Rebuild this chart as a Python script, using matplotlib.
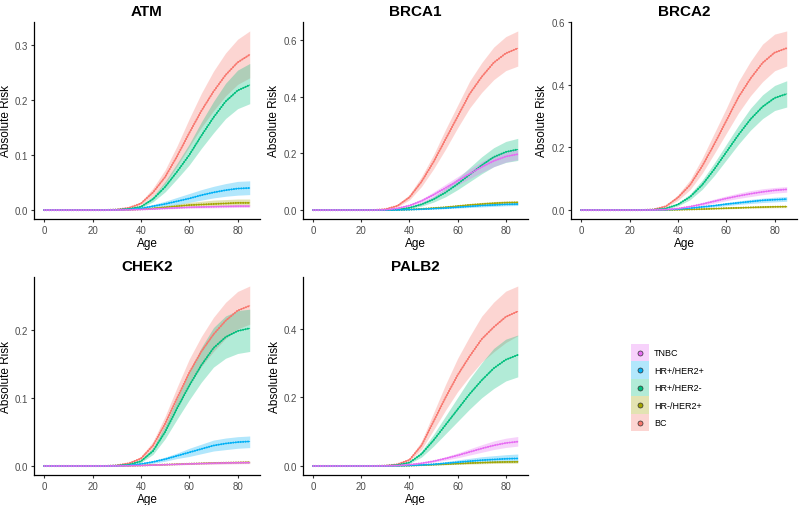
import matplotlib
matplotlib.use("Agg")
import matplotlib.pyplot as plt
from matplotlib.patches import Rectangle
from matplotlib.lines import Line2D

plt.rcParams['font.family'] = ['Liberation Sans', 'DejaVu Sans']

AGES = [0, 5, 10, 15, 20, 25, 30, 35, 40, 45, 50, 55, 60, 65, 70, 75, 80, 85]
GENES = ['ATM', 'BRCA1', 'BRCA2', 'CHEK2', 'PALB2']
SUBTYPES = ['BC', 'HR-/HER2+', 'HR+/HER2-', 'HR+/HER2+', 'TNBC']
LEGEND_ORDER = ['TNBC', 'HR+/HER2+', 'HR+/HER2-', 'HR-/HER2+', 'BC']
COLORS = {'TNBC': '#E76BF3', 'HR+/HER2+': '#00B0F6', 'HR+/HER2-': '#00BF7D',
          'HR-/HER2+': '#A3A500', 'BC': '#F8766D'}
Y_TICKS = {'ATM': [0.0, 0.1, 0.2, 0.3], 'BRCA1': [0.0, 0.2, 0.4, 0.6],
           'BRCA2': [0.0, 0.2, 0.4, 0.6], 'CHEK2': [0.0, 0.1, 0.2],
           'PALB2': [0.0, 0.2, 0.4]}
X_TICKS = [0, 20, 40, 60, 80]

# ---------------- ATM ----------------
ATM_BC = [0, 0, 0, 0, 0, 0, 0.001, 0.004, 0.012, 0.032, 0.06, 0.098, 0.14, 0.18, 0.215, 0.245, 0.268, 0.282]
ATM_BC_LO = [0, 0, 0, 0, 0, 0, 0.0008, 0.003, 0.009, 0.025, 0.048, 0.08, 0.115, 0.15, 0.18, 0.207, 0.228, 0.24]
ATM_BC_HI = [0, 0, 0, 0, 0, 0, 0.0013, 0.005, 0.015, 0.04, 0.073, 0.117, 0.166, 0.212, 0.252, 0.285, 0.31, 0.325]
ATM_HRNEG_HER2POS = [0, 0, 0, 0, 0, 0, 0.0001, 0.0005, 0.0015, 0.003, 0.005, 0.007, 0.009, 0.01, 0.011, 0.012, 0.013, 0.013]
ATM_HRNEG_HER2POS_LO = [0, 0, 0, 0, 0, 0, 0.0001, 0.0003, 0.001, 0.002, 0.003, 0.004, 0.005, 0.006, 0.007, 0.007, 0.008, 0.008]
ATM_HRNEG_HER2POS_HI = [0, 0, 0, 0, 0, 0, 0.0002, 0.0008, 0.0025, 0.005, 0.008, 0.011, 0.014, 0.016, 0.018, 0.019, 0.02, 0.02]
ATM_HRPOS_HER2NEG = [0, 0, 0, 0, 0, 0, 0.0005, 0.002, 0.006, 0.02, 0.042, 0.07, 0.1, 0.135, 0.168, 0.197, 0.217, 0.227]
ATM_HRPOS_HER2NEG_LO = [0, 0, 0, 0, 0, 0, 0.0003, 0.0015, 0.004, 0.015, 0.033, 0.057, 0.082, 0.112, 0.14, 0.166, 0.184, 0.193]
ATM_HRPOS_HER2NEG_HI = [0, 0, 0, 0, 0, 0, 0.0008, 0.003, 0.008, 0.025, 0.052, 0.085, 0.12, 0.16, 0.197, 0.23, 0.254, 0.266]
ATM_HRPOS_HER2POS = [0, 0, 0, 0, 0, 0, 0.0003, 0.001, 0.003, 0.007, 0.011, 0.016, 0.021, 0.027, 0.032, 0.036, 0.039, 0.04]
ATM_HRPOS_HER2POS_LO = [0, 0, 0, 0, 0, 0, 0.0002, 0.0006, 0.002, 0.004, 0.007, 0.01, 0.014, 0.018, 0.022, 0.025, 0.027, 0.028]
ATM_HRPOS_HER2POS_HI = [0, 0, 0, 0, 0, 0, 0.0005, 0.0015, 0.005, 0.01, 0.016, 0.023, 0.03, 0.037, 0.043, 0.048, 0.052, 0.053]
ATM_TNBC = [0, 0, 0, 0, 0, 0, 0.0001, 0.0003, 0.001, 0.002, 0.003, 0.004, 0.005, 0.0055, 0.006, 0.0065, 0.007, 0.007]
ATM_TNBC_LO = [0, 0, 0, 0, 0, 0, 0.00005, 0.0002, 0.0006, 0.0013, 0.002, 0.0027, 0.0033, 0.0037, 0.004, 0.0044, 0.0047, 0.005]
ATM_TNBC_HI = [0, 0, 0, 0, 0, 0, 0.00015, 0.0005, 0.0015, 0.003, 0.0045, 0.0058, 0.007, 0.0078, 0.0085, 0.009, 0.0095, 0.0098]

# ---------------- BRCA1 ----------------
BRCA1_BC = [0, 0, 0, 0, 0, 0, 0.003, 0.015, 0.045, 0.1, 0.17, 0.25, 0.33, 0.41, 0.47, 0.52, 0.553, 0.571]
BRCA1_BC_LO = [0, 0, 0, 0, 0, 0, 0.002, 0.011, 0.036, 0.083, 0.145, 0.215, 0.29, 0.36, 0.415, 0.46, 0.492, 0.508]
BRCA1_BC_HI = [0, 0, 0, 0, 0, 0, 0.004, 0.019, 0.055, 0.118, 0.195, 0.285, 0.37, 0.455, 0.52, 0.575, 0.612, 0.632]
BRCA1_HRNEG_HER2POS = [0, 0, 0, 0, 0, 0, 0.0001, 0.0006, 0.002, 0.004, 0.007, 0.01, 0.014, 0.018, 0.021, 0.024, 0.026, 0.027]
BRCA1_HRNEG_HER2POS_LO = [0, 0, 0, 0, 0, 0, 0.0001, 0.0004, 0.0014, 0.003, 0.005, 0.007, 0.01, 0.013, 0.016, 0.018, 0.02, 0.021]
BRCA1_HRNEG_HER2POS_HI = [0, 0, 0, 0, 0, 0, 0.0002, 0.0008, 0.0026, 0.005, 0.009, 0.013, 0.018, 0.023, 0.027, 0.03, 0.032, 0.033]
BRCA1_HRPOS_HER2NEG = [0, 0, 0, 0, 0, 0, 0.0003, 0.002, 0.008, 0.02, 0.038, 0.062, 0.092, 0.125, 0.158, 0.187, 0.205, 0.214]
BRCA1_HRPOS_HER2NEG_LO = [0, 0, 0, 0, 0, 0, 0.0002, 0.0013, 0.005, 0.014, 0.028, 0.047, 0.072, 0.1, 0.128, 0.153, 0.168, 0.175]
BRCA1_HRPOS_HER2NEG_HI = [0, 0, 0, 0, 0, 0, 0.0005, 0.003, 0.011, 0.026, 0.048, 0.077, 0.112, 0.15, 0.188, 0.22, 0.242, 0.253]
BRCA1_HRPOS_HER2POS = [0, 0, 0, 0, 0, 0, 0.0001, 0.0005, 0.0015, 0.003, 0.005, 0.007, 0.01, 0.013, 0.016, 0.018, 0.02, 0.021]
BRCA1_HRPOS_HER2POS_LO = [0, 0, 0, 0, 0, 0, 0.0001, 0.0003, 0.001, 0.002, 0.0035, 0.005, 0.007, 0.009, 0.011, 0.013, 0.015, 0.016]
BRCA1_HRPOS_HER2POS_HI = [0, 0, 0, 0, 0, 0, 0.0002, 0.0008, 0.002, 0.004, 0.0065, 0.009, 0.013, 0.017, 0.021, 0.023, 0.025, 0.026]
BRCA1_TNBC = [0, 0, 0, 0, 0, 0, 0.001, 0.006, 0.016, 0.032, 0.054, 0.078, 0.103, 0.128, 0.152, 0.173, 0.189, 0.197]
BRCA1_TNBC_LO = [0, 0, 0, 0, 0, 0, 0.0007, 0.004, 0.012, 0.025, 0.044, 0.065, 0.088, 0.111, 0.133, 0.153, 0.169, 0.178]
BRCA1_TNBC_HI = [0, 0, 0, 0, 0, 0, 0.0014, 0.008, 0.02, 0.039, 0.064, 0.091, 0.118, 0.145, 0.171, 0.193, 0.209, 0.216]

# ---------------- BRCA2 ----------------
BRCA2_BC = [0, 0, 0, 0, 0, 0, 0.002, 0.012, 0.04, 0.08, 0.14, 0.21, 0.285, 0.36, 0.42, 0.47, 0.503, 0.517]
BRCA2_BC_LO = [0, 0, 0, 0, 0, 0, 0.0015, 0.009, 0.031, 0.065, 0.117, 0.18, 0.245, 0.31, 0.365, 0.41, 0.445, 0.46]
BRCA2_BC_HI = [0, 0, 0, 0, 0, 0, 0.003, 0.015, 0.049, 0.096, 0.165, 0.245, 0.325, 0.41, 0.475, 0.53, 0.562, 0.572]
BRCA2_HRNEG_HER2POS = [0, 0, 0, 0, 0, 0, 0.0001, 0.0003, 0.001, 0.002, 0.003, 0.0045, 0.006, 0.007, 0.0085, 0.0095, 0.0105, 0.011]
BRCA2_HRNEG_HER2POS_LO = [0, 0, 0, 0, 0, 0, 0.0001, 0.0002, 0.0007, 0.0014, 0.002, 0.003, 0.004, 0.005, 0.006, 0.0067, 0.0074, 0.0078]
BRCA2_HRNEG_HER2POS_HI = [0, 0, 0, 0, 0, 0, 0.0002, 0.0004, 0.0014, 0.0027, 0.004, 0.006, 0.008, 0.0095, 0.0115, 0.0128, 0.014, 0.0148]
BRCA2_HRPOS_HER2NEG = [0, 0, 0, 0, 0, 0, 0.001, 0.005, 0.018, 0.042, 0.08, 0.13, 0.185, 0.24, 0.29, 0.33, 0.358, 0.371]
BRCA2_HRPOS_HER2NEG_LO = [0, 0, 0, 0, 0, 0, 0.0007, 0.0035, 0.013, 0.033, 0.066, 0.11, 0.16, 0.21, 0.255, 0.292, 0.318, 0.329]
BRCA2_HRPOS_HER2NEG_HI = [0, 0, 0, 0, 0, 0, 0.0013, 0.0065, 0.023, 0.051, 0.095, 0.15, 0.21, 0.27, 0.325, 0.368, 0.398, 0.413]
BRCA2_HRPOS_HER2POS = [0, 0, 0, 0, 0, 0, 0.0002, 0.001, 0.003, 0.006, 0.01, 0.014, 0.019, 0.023, 0.027, 0.031, 0.033, 0.035]
BRCA2_HRPOS_HER2POS_LO = [0, 0, 0, 0, 0, 0, 0.0001, 0.0007, 0.002, 0.004, 0.007, 0.01, 0.014, 0.018, 0.021, 0.024, 0.026, 0.028]
BRCA2_HRPOS_HER2POS_HI = [0, 0, 0, 0, 0, 0, 0.0003, 0.0014, 0.004, 0.008, 0.013, 0.018, 0.024, 0.029, 0.034, 0.038, 0.041, 0.043]
BRCA2_TNBC = [0, 0, 0, 0, 0, 0, 0.0003, 0.0015, 0.005, 0.011, 0.019, 0.028, 0.037, 0.045, 0.052, 0.058, 0.063, 0.066]
BRCA2_TNBC_LO = [0, 0, 0, 0, 0, 0, 0.0002, 0.001, 0.0035, 0.008, 0.014, 0.022, 0.03, 0.037, 0.043, 0.049, 0.054, 0.057]
BRCA2_TNBC_HI = [0, 0, 0, 0, 0, 0, 0.0004, 0.002, 0.0065, 0.014, 0.024, 0.035, 0.045, 0.054, 0.062, 0.068, 0.072, 0.075]

# ---------------- CHEK2 ----------------
CHEK2_BC = [0, 0, 0, 0, 0, 0, 0.001, 0.004, 0.011, 0.03, 0.062, 0.1, 0.137, 0.168, 0.193, 0.213, 0.228, 0.235]
CHEK2_BC_LO = [0, 0, 0, 0, 0, 0, 0.0008, 0.003, 0.009, 0.025, 0.052, 0.085, 0.118, 0.146, 0.168, 0.187, 0.201, 0.208]
CHEK2_BC_HI = [0, 0, 0, 0, 0, 0, 0.0013, 0.005, 0.014, 0.036, 0.073, 0.116, 0.157, 0.19, 0.218, 0.24, 0.256, 0.264]
CHEK2_HRNEG_HER2POS = [0, 0, 0, 0, 0, 0, 0.0001, 0.0003, 0.0008, 0.0015, 0.002, 0.0027, 0.0033, 0.0039, 0.0044, 0.0048, 0.0052, 0.0055]
CHEK2_HRNEG_HER2POS_LO = [0, 0, 0, 0, 0, 0, 0.0001, 0.0002, 0.0005, 0.001, 0.0014, 0.0019, 0.0023, 0.0027, 0.0031, 0.0034, 0.0036, 0.0038]
CHEK2_HRNEG_HER2POS_HI = [0, 0, 0, 0, 0, 0, 0.0002, 0.0005, 0.0012, 0.0021, 0.0028, 0.0036, 0.0044, 0.0052, 0.0058, 0.0063, 0.0068, 0.0072]
CHEK2_HRPOS_HER2NEG = [0, 0, 0, 0, 0, 0, 0.0005, 0.002, 0.007, 0.022, 0.05, 0.085, 0.118, 0.148, 0.173, 0.189, 0.198, 0.202]
CHEK2_HRPOS_HER2NEG_LO = [0, 0, 0, 0, 0, 0, 0.0003, 0.0015, 0.005, 0.017, 0.04, 0.069, 0.097, 0.123, 0.145, 0.158, 0.165, 0.168]
CHEK2_HRPOS_HER2NEG_HI = [0, 0, 0, 0, 0, 0, 0.0007, 0.0025, 0.009, 0.027, 0.06, 0.1, 0.139, 0.174, 0.203, 0.22, 0.228, 0.23]
CHEK2_HRPOS_HER2POS = [0, 0, 0, 0, 0, 0, 0.0002, 0.0008, 0.003, 0.006, 0.01, 0.015, 0.02, 0.025, 0.03, 0.033, 0.035, 0.036]
CHEK2_HRPOS_HER2POS_LO = [0, 0, 0, 0, 0, 0, 0.0001, 0.0005, 0.002, 0.004, 0.007, 0.011, 0.014, 0.018, 0.022, 0.024, 0.026, 0.027]
CHEK2_HRPOS_HER2POS_HI = [0, 0, 0, 0, 0, 0, 0.0003, 0.0011, 0.004, 0.008, 0.013, 0.019, 0.026, 0.032, 0.038, 0.041, 0.043, 0.044]
CHEK2_TNBC = [0, 0, 0, 0, 0, 0, 0.0001, 0.0003, 0.0007, 0.0013, 0.0019, 0.0025, 0.0031, 0.0036, 0.0041, 0.0045, 0.0048, 0.005]
CHEK2_TNBC_LO = [0, 0, 0, 0, 0, 0, 0.0001, 0.0002, 0.0005, 0.0009, 0.0013, 0.0017, 0.0021, 0.0025, 0.0028, 0.0031, 0.0033, 0.0035]
CHEK2_TNBC_HI = [0, 0, 0, 0, 0, 0, 0.0002, 0.0004, 0.001, 0.0018, 0.0026, 0.0034, 0.0042, 0.0048, 0.0055, 0.006, 0.0064, 0.0067]

# ---------------- PALB2 ----------------
PALB2_BC = [0, 0, 0, 0, 0, 0, 0.001, 0.005, 0.018, 0.06, 0.13, 0.2, 0.265, 0.32, 0.37, 0.405, 0.435, 0.451]
PALB2_BC_LO = [0, 0, 0, 0, 0, 0, 0.0008, 0.004, 0.014, 0.048, 0.105, 0.163, 0.217, 0.262, 0.303, 0.333, 0.36, 0.38]
PALB2_BC_HI = [0, 0, 0, 0, 0, 0, 0.0013, 0.006, 0.022, 0.072, 0.155, 0.238, 0.314, 0.378, 0.437, 0.478, 0.51, 0.525]
PALB2_HRNEG_HER2POS = [0, 0, 0, 0, 0, 0, 0.0001, 0.0004, 0.0012, 0.0025, 0.004, 0.0055, 0.007, 0.0085, 0.0098, 0.011, 0.0118, 0.0122]
PALB2_HRNEG_HER2POS_LO = [0, 0, 0, 0, 0, 0, 0.0001, 0.0003, 0.0008, 0.0017, 0.0027, 0.0037, 0.0047, 0.0057, 0.0066, 0.0074, 0.008, 0.0083]
PALB2_HRNEG_HER2POS_HI = [0, 0, 0, 0, 0, 0, 0.0002, 0.0006, 0.0017, 0.0035, 0.0055, 0.0076, 0.0097, 0.0117, 0.0135, 0.015, 0.016, 0.0166]
PALB2_HRPOS_HER2NEG = [0, 0, 0, 0, 0, 0, 0.0005, 0.003, 0.01, 0.035, 0.075, 0.12, 0.165, 0.21, 0.25, 0.285, 0.31, 0.324]
PALB2_HRPOS_HER2NEG_LO = [0, 0, 0, 0, 0, 0, 0.0003, 0.002, 0.007, 0.026, 0.058, 0.094, 0.13, 0.166, 0.199, 0.226, 0.248, 0.26]
PALB2_HRPOS_HER2NEG_HI = [0, 0, 0, 0, 0, 0, 0.0007, 0.004, 0.013, 0.044, 0.092, 0.146, 0.2, 0.254, 0.301, 0.343, 0.37, 0.382]
PALB2_HRPOS_HER2POS = [0, 0, 0, 0, 0, 0, 0.0001, 0.0005, 0.0015, 0.003, 0.005, 0.008, 0.011, 0.014, 0.017, 0.019, 0.021, 0.022]
PALB2_HRPOS_HER2POS_LO = [0, 0, 0, 0, 0, 0, 0.0001, 0.0003, 0.0008, 0.0017, 0.0028, 0.0045, 0.0062, 0.0078, 0.0094, 0.0105, 0.0115, 0.012]
PALB2_HRPOS_HER2POS_HI = [0, 0, 0, 0, 0, 0, 0.0002, 0.0008, 0.0024, 0.0048, 0.008, 0.0128, 0.0176, 0.0224, 0.027, 0.03, 0.033, 0.035]
PALB2_TNBC = [0, 0, 0, 0, 0, 0, 0.0003, 0.0012, 0.004, 0.008, 0.014, 0.022, 0.031, 0.041, 0.051, 0.06, 0.067, 0.071]
PALB2_TNBC_LO = [0, 0, 0, 0, 0, 0, 0.0002, 0.0008, 0.003, 0.006, 0.011, 0.017, 0.024, 0.032, 0.04, 0.048, 0.054, 0.058]
PALB2_TNBC_HI = [0, 0, 0, 0, 0, 0, 0.0004, 0.0016, 0.005, 0.01, 0.017, 0.027, 0.038, 0.05, 0.062, 0.073, 0.081, 0.086]

KEY = {'BC': 'BC', 'HR-/HER2+': 'HRNEG_HER2POS', 'HR+/HER2-': 'HRPOS_HER2NEG',
       'HR+/HER2+': 'HRPOS_HER2POS', 'TNBC': 'TNBC'}
G = globals()
DATA = {(g, s): (G[f'{g}_{KEY[s]}'], G[f'{g}_{KEY[s]}_LO'], G[f'{g}_{KEY[s]}_HI'])
        for g in GENES for s in SUBTYPES}

# ---------------- layout ----------------
W, H = 800, 506
fig = plt.figure(figsize=(W / 100, H / 100), dpi=100)

def box(x0, y0, x1, y1):
    return [x0 / W, 1 - y1 / H, (x1 - x0) / W, (y1 - y0) / H]

POS = {'ATM': box(34, 23, 260, 220), 'BRCA1': box(303, 23, 528, 220),
       'BRCA2': box(571, 23, 797, 220), 'CHEK2': box(34, 278, 260, 476),
       'PALB2': box(303, 278, 528, 476)}

TICK_COL = '#4D4D4D'
for g in GENES:
    ax = fig.add_axes(POS[g])
    for s in SUBTYPES:
        m, lo, hi = DATA[(g, s)]
        ax.fill_between(AGES, lo, hi, color=COLORS[s], alpha=0.3, linewidth=0)
    for s in SUBTYPES:
        m, lo, hi = DATA[(g, s)]
        ax.plot(AGES, m, color=COLORS[s], lw=0.6, solid_capstyle='round')
        ax.plot(AGES, m, color=COLORS[s], lw=1.5, linestyle=(0, (0.01, 1.17)),
                dash_capstyle='round')
    ax.margins(x=0.05, y=0.05)
    ax.set_xticks(X_TICKS)
    ax.set_yticks(Y_TICKS[g])
    ax.set_yticklabels([f'{v:.1f}' for v in Y_TICKS[g]])
    for sp in ['top', 'right']:
        ax.spines[sp].set_visible(False)
    for sp in ['left', 'bottom']:
        ax.spines[sp].set_linewidth(0.9)
        ax.spines[sp].set_color('black')
    ax.tick_params(axis='both', length=2.5, width=0.8, color='#333333',
                   labelsize=7, labelcolor=TICK_COL, pad=2)
    ax.set_xlabel('Age', fontsize=8.5, labelpad=1)
    ax.set_ylabel('Absolute Risk', fontsize=8.5, labelpad=2)
    ax.set_title(g, fontsize=11, fontweight='bold', pad=5)


class LegendKey:
    def __init__(self, color):
        self.color = color


class LegendKeyHandler:
    def legend_artist(self, legend, orig_handle, fontsize, handlebox):
        x0, y0 = handlebox.xdescent, handlebox.ydescent
        w, h = handlebox.width, handlebox.height
        tr = handlebox.get_transform()
        rect = Rectangle((-x0, -y0), w, h, facecolor=orig_handle.color, alpha=0.3,
                         edgecolor='none', transform=tr)
        handlebox.add_artist(rect)
        dot = Line2D([w / 2 - x0], [h / 2 - y0], linestyle='none', marker='o',
                     markersize=3.6, markerfacecolor=orig_handle.color,
                     markeredgecolor='#333333', markeredgewidth=0.5, transform=tr)
        handlebox.add_artist(dot)
        return rect


handles = [LegendKey(COLORS[s]) for s in LEGEND_ORDER]
fig.legend(handles, LEGEND_ORDER, handler_map={LegendKey: LegendKeyHandler()},
           loc='upper left', bbox_to_anchor=(631 / W, 1 - 345 / H), frameon=False,
           fontsize=6.5, handlelength=2.0, handleheight=2.6, labelspacing=0,
           handletextpad=0.55, borderpad=0, borderaxespad=0)

fig.savefig('out.png', dpi=100, facecolor='white')
